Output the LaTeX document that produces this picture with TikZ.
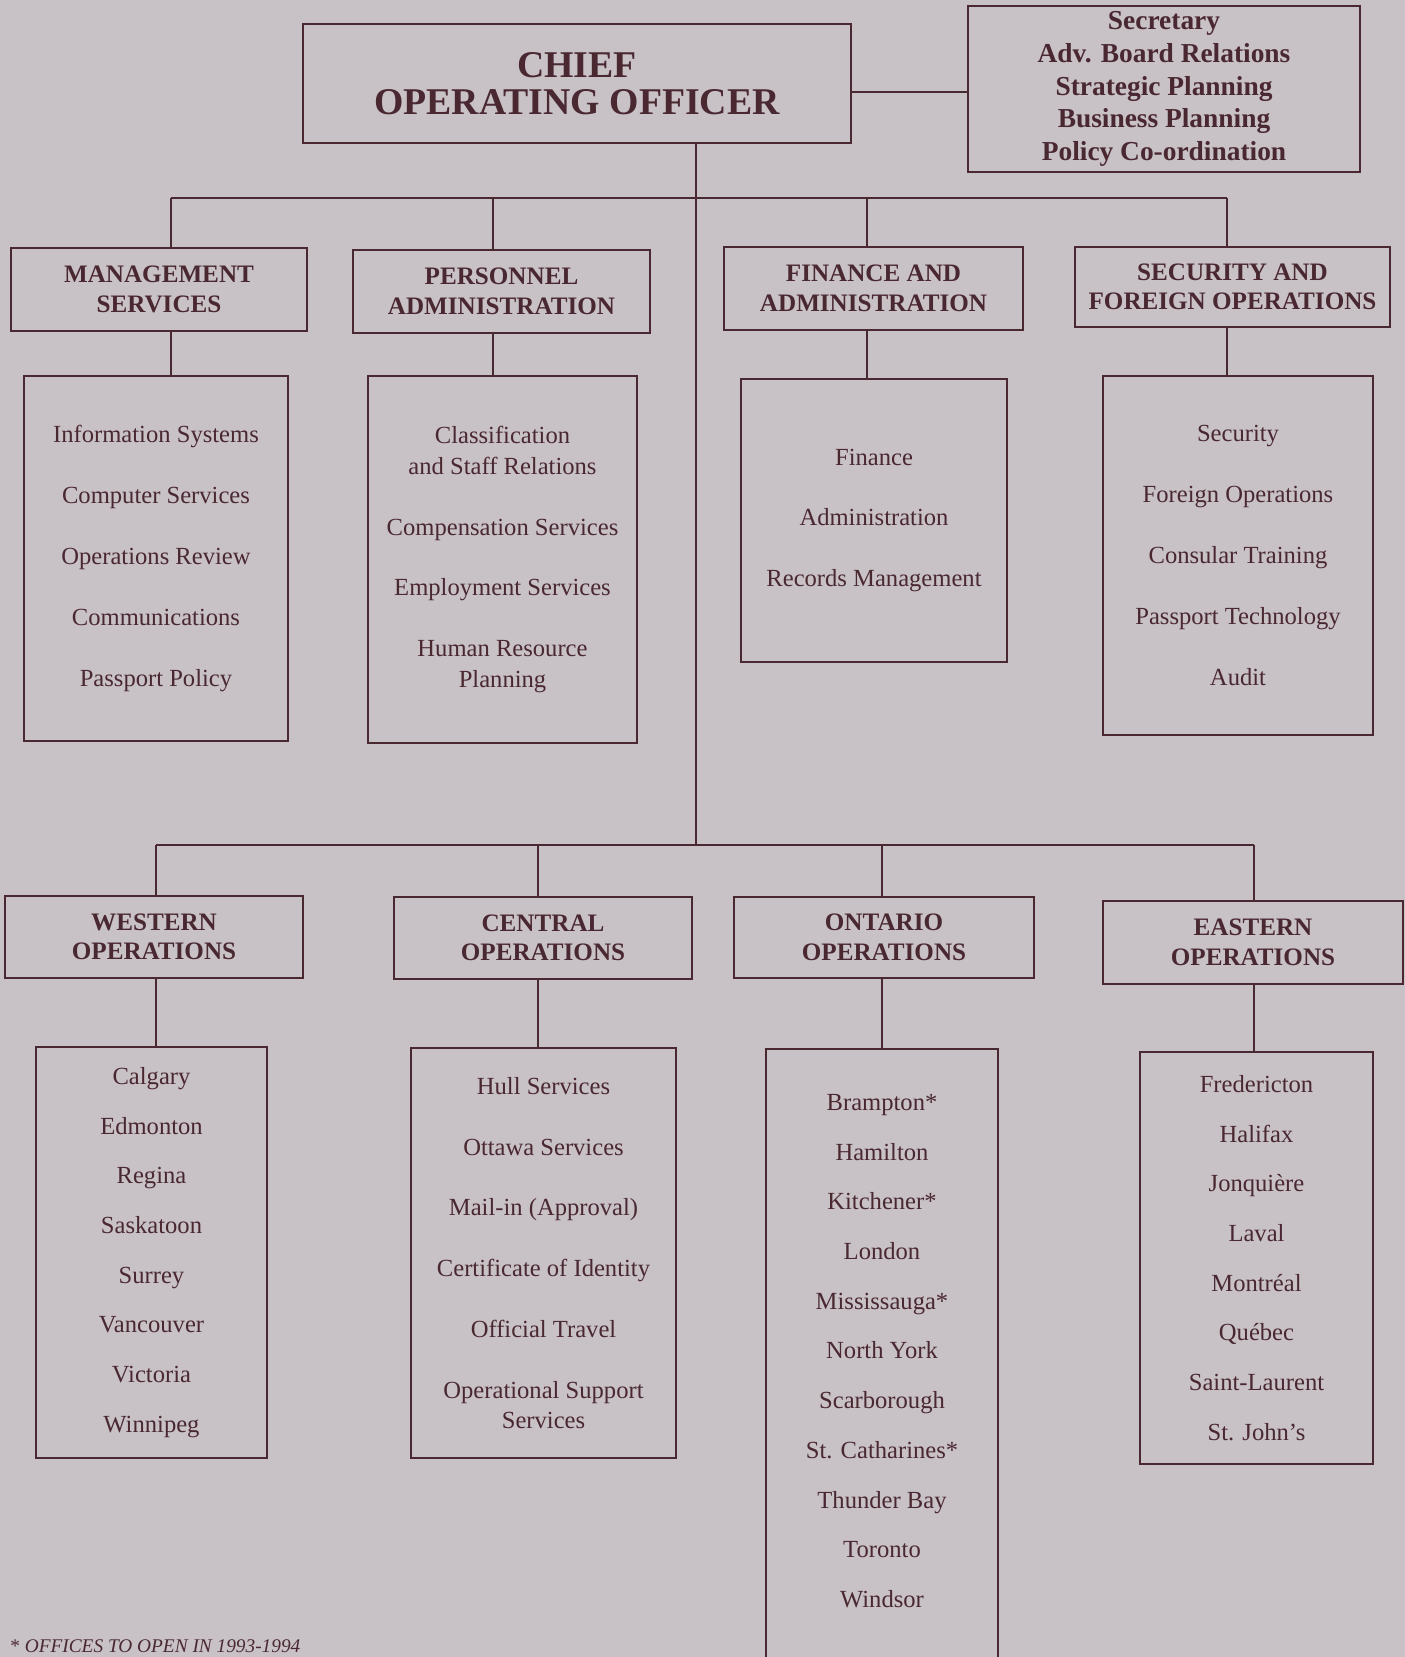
\documentclass[tikz,border=0pt]{standalone}
\usepackage{fontspec}
\setmainfont{Liberation Serif}
\usepackage{xcolor}
\usepackage{tikz}
\definecolor{paper}{RGB}{200,193,197}
\definecolor{ink}{RGB}{74,40,50}

\begin{document}
\begin{tikzpicture}[
    x=0.02cm, y=-0.02cm,
    box/.style={
        draw=ink,
        line width=1.2pt,
        inner sep=0pt,
        align=center,
        text=ink
    },
    head/.style={box, font=\fontsize{14.3}{16.8}\selectfont\bfseries},
    list/.style={box, font=\fontsize{14}{17.3}\selectfont},
    link/.style={draw=ink, line width=1.3pt}
]
\path[use as bounding box, fill=paper] (0,0) rectangle (1405,1657);

% top
\node[box, minimum width=10.96cm, minimum height=2.38cm,
      font=\fontsize{21.5}{21}\selectfont\bfseries] (coo) at (577,83.5) {CHIEF\\OPERATING OFFICER};
\node[box, minimum width=7.84cm, minimum height=3.32cm,
      font=\fontsize{15.6}{18.7}\selectfont\bfseries] (staff) at (1164,89)
    {Secretary\\Adv. Board Relations\\Strategic Planning\\Business Planning\\Policy Co-ordination};

% first row
\node[head, minimum width=5.92cm, minimum height=1.66cm] (mgmt) at (159,289.5) {MANAGEMENT\\SERVICES};
\node[head, minimum width=5.94cm, minimum height=1.66cm] (pers) at (501.5,291.5) {PERSONNEL\\ADMINISTRATION};
\node[head, minimum width=5.98cm, minimum height=1.66cm] (fin) at (873.5,288.5) {FINANCE AND\\ADMINISTRATION};
\node[head, minimum width=6.3cm, minimum height=1.6cm] (secops) at (1232.5,287) {SECURITY AND\\FOREIGN OPERATIONS};

\node[list, minimum width=5.28cm, minimum height=7.3cm] (mgmtlist) at (156,558.5)
    {Information Systems\\[17.3pt]Computer Services\\[17.3pt]Operations Review\\[17.3pt]Communications\\[17.3pt]Passport Policy};
\node[list, minimum width=5.38cm, minimum height=7.34cm] (perslist) at (502.5,559.5)
    {Classification\\and Staff Relations\\[17.3pt]Compensation Services\\[17.3pt]Employment Services\\[17.3pt]Human Resource\\Planning};
\node[list, minimum width=5.32cm, minimum height=5.66cm] (finlist) at (874,520.5)
    {Finance\\[17.3pt]Administration\\[17.3pt]Records Management};
\node[list, minimum width=5.4cm, minimum height=7.18cm] (seclist) at (1238,555.5)
    {Security\\[17.3pt]Foreign Operations\\[17.3pt]Consular Training\\[17.3pt]Passport Technology\\[17.3pt]Audit};

% second row
\node[head, minimum width=5.96cm, minimum height=1.64cm] (west) at (154,937) {WESTERN\\OPERATIONS};
\node[head, minimum width=5.96cm, minimum height=1.64cm] (cent) at (543,938) {CENTRAL\\OPERATIONS};
\node[head, minimum width=6.0cm, minimum height=1.62cm] (ont) at (884,937.5) {ONTARIO\\OPERATIONS};
\node[head, minimum width=6.0cm, minimum height=1.66cm] (east) at (1253,942.5) {EASTERN\\OPERATIONS};

\node[list, minimum width=4.62cm, minimum height=8.22cm] (westlist) at (151.5,1252.5)
    {Calgary\\[11pt]Edmonton\\[11pt]Regina\\[11pt]Saskatoon\\[11pt]Surrey\\[11pt]Vancouver\\[11pt]Victoria\\[11pt]Winnipeg};
\node[list, minimum width=5.3cm, minimum height=8.2cm] (centlist) at (543.5,1253)
    {Hull Services\\[17.3pt]Ottawa Services\\[17.3pt]Mail-in (Approval)\\[17.3pt]Certificate of Identity\\[17.3pt]Official Travel\\[17.3pt]Operational Support\\Services};
\node[list, minimum width=4.64cm, minimum height=13cm, anchor=north] (ontlist) at (882,1048) {};
\node[list, draw=none] (ontitems) at (882,1351)
    {Brampton*\\[11pt]Hamilton\\[11pt]Kitchener*\\[11pt]London\\[11pt]Mississauga*\\[11pt]North York\\[11pt]Scarborough\\[11pt]St. Catharines*\\[11pt]Thunder Bay\\[11pt]Toronto\\[11pt]Windsor};
\node[list, minimum width=4.66cm, minimum height=8.24cm] (eastlist) at (1256.5,1258)
    {Fredericton\\[11pt]Halifax\\[11pt]Jonquière\\[11pt]Laval\\[11pt]Montréal\\[11pt]Québec\\[11pt]Saint-Laurent\\[11pt]St. John's};

\node[anchor=base west, inner sep=0pt, text=ink, font=\fontsize{11}{13}\selectfont] (note) at (10,1652)
    {*\ \textit{OFFICES TO OPEN IN 1993-1994}};

% connectors
\coordinate (trunk) at (696,198);
\coordinate (lowbus) at (696,845);
\coordinate (c1) at (171,198);
\coordinate (c2) at (493,198);
\coordinate (c3) at (867,198);
\coordinate (c4) at (1227,198);
\coordinate (d1) at (156,845);
\coordinate (d2) at (538,845);
\coordinate (d3) at (882,845);
\coordinate (d4) at (1254,845);

\draw[link] ([yshift=-0.17cm]coo.east) -- ([yshift=-0.17cm]coo.east -| staff.west);
\draw[link] (trunk |- coo.south) -- (lowbus);
\draw[link] (c1) -- (c4);
\draw[link] (d1) -- (d4);
\foreach \col/\hd/\ls in {c1/mgmt/mgmtlist, c2/pers/perslist, c3/fin/finlist, c4/secops/seclist,
                          d1/west/westlist, d2/cent/centlist, d3/ont/ontlist, d4/east/eastlist} {
    \draw[link] (\col) -- (\col |- \hd.north);
    \draw[link] (\col |- \hd.south) -- (\col |- \ls.north);
}
\end{tikzpicture}
\end{document}
